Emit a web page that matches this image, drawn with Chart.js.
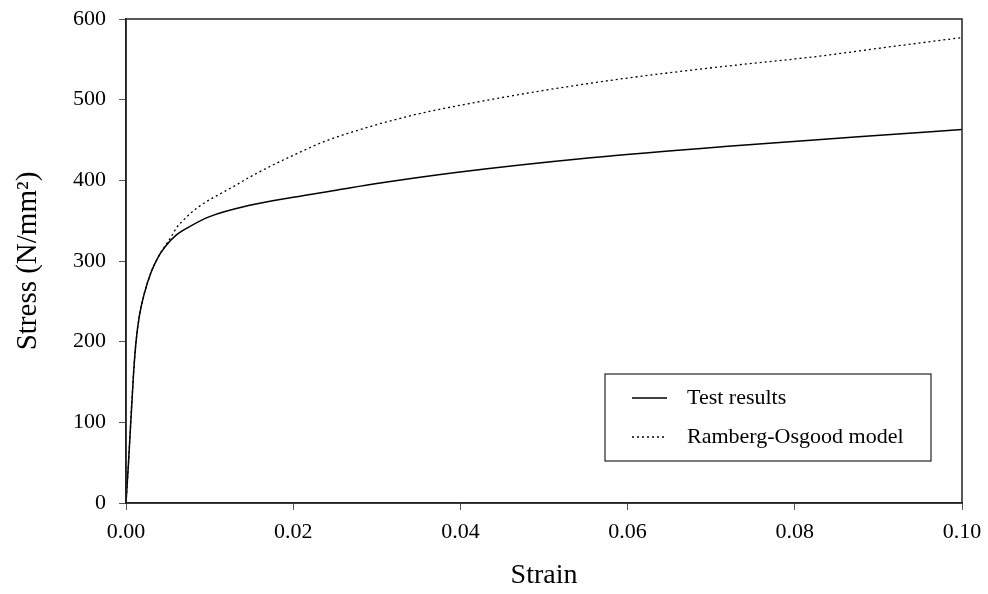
<!DOCTYPE html>
<html>
<head>
<meta charset="utf-8">
<script src="https://cdn.jsdelivr.net/npm/chart.js@4/dist/chart.umd.min.js"></script>
<style>
  html, body { margin: 0; padding: 0; background: #fff; }
  #wrap { width: 988px; height: 594px; }
</style>
</head>
<body>
<div id="wrap"><canvas id="ssChart" width="988" height="594"></canvas></div>
<script>
// Test results
const testStrain = [0, 0.0003, 0.0009, 0.0012, 0.0016, 0.0022, 0.0030, 0.0038, 0.0047, 0.0060, 0.0075, 0.0100, 0.0148, 0.0200, 0.0253, 0.0300, 0.0397, 0.0556, 0.0716, 0.0876, 0.1000];
const testStress = [0, 50, 160, 200, 232, 260, 286, 304, 318, 332, 342, 355, 369, 379, 388, 396, 410, 428, 442, 454, 463];

// Ramberg-Osgood model
const modelStrain = [0, 0.0003, 0.0009, 0.0012, 0.0016, 0.0022, 0.0030, 0.0038, 0.0047, 0.0054, 0.0061, 0.0069, 0.0077, 0.0088, 0.0100, 0.0114, 0.0128, 0.0148, 0.0168, 0.0200, 0.0237, 0.0290, 0.0344, 0.0420, 0.0503, 0.0580, 0.0663, 0.0740, 0.0822, 0.0910, 0.1000];
const modelStress = [0, 50, 160, 200, 232, 260, 286, 304, 319, 330, 342, 351, 359, 368, 376, 384, 392, 404, 415, 431, 448, 466, 481, 497, 512, 524, 535, 544, 553, 565, 577];

const seriesLabels = ['Test results', 'Ramberg-Osgood model'];
const xTicks = [0, 0.02, 0.04, 0.06, 0.08, 0.10];
const yTicks = [0, 100, 200, 300, 400, 500, 600];

const FONT = '"Liberation Serif", "Times New Roman", serif';

function pairs(xs, ys) {
  return xs.map((x, i) => ({ x: x, y: ys[i] }));
}

// box round the plot + legend inside it
const frameAndLegend = {
  id: 'frameAndLegend',
  afterDraw(chart) {
    const c = chart.ctx;
    const a = chart.chartArea;
    c.save();
    c.strokeStyle = '#222';
    c.lineWidth = 1.5;
    c.strokeRect(a.left, a.top, a.right - a.left, a.bottom - a.top);

    // legend box
    const bw = 326, bh = 87;
    const bx = a.right - 31 - bw;
    const by = a.bottom - 42 - bh;
    c.fillStyle = '#fff';
    c.fillRect(bx, by, bw, bh);
    c.strokeStyle = '#222';
    c.lineWidth = 1.2;
    c.strokeRect(bx, by, bw, bh);

    const ds = chart.data.datasets;
    const rows = [by + 24, by + 63];
    ds.forEach((d, i) => {
      c.beginPath();
      c.strokeStyle = '#000';
      c.lineWidth = 1.3;
      c.setLineDash(d.borderDash || []);
      c.moveTo(bx + 27, rows[i]);
      c.lineTo(bx + 62, rows[i]);
      c.stroke();
      c.setLineDash([]);
      c.fillStyle = '#000';
      c.font = '22px ' + FONT;
      c.textBaseline = 'middle';
      c.textAlign = 'left';
      c.fillText(d.label, bx + 82, rows[i]);
    });
    c.restore();
  }
};

const ctx = document.getElementById('ssChart').getContext('2d');
new Chart(ctx, {
  type: 'scatter',
  data: {
    datasets: [
      {
        label: seriesLabels[0],
        data: pairs(testStrain, testStress),
        showLine: true,
        borderColor: '#000',
        borderWidth: 1.5,
        pointRadius: 0,
        cubicInterpolationMode: 'monotone',
        fill: false
      },
      {
        label: seriesLabels[1],
        data: pairs(modelStrain, modelStress),
        showLine: true,
        borderColor: '#000',
        borderWidth: 1.3,
        borderDash: [2, 3],
        pointRadius: 0,
        cubicInterpolationMode: 'monotone',
        fill: false
      }
    ]
  },
  options: {
    responsive: false,
    animation: false,
    layout: { padding: { top: 19, right: 26, left: 0, bottom: 0 } },
    plugins: {
      legend: { display: false },
      tooltip: { enabled: false }
    },
    scales: {
      x: {
        type: 'linear',
        min: 0,
        max: 0.1,
        afterBuildTicks: s => { s.ticks = xTicks.map(v => ({ value: v })); },
        afterFit: s => { s.height = 91; s.paddingLeft = 0; s.paddingRight = 0; },
        grid: { drawOnChartArea: false, drawTicks: true, tickLength: 7, color: '#555' },
        border: { display: true, color: '#222', width: 1.5 },
        ticks: {
          color: '#000',
          padding: 9,
          font: { family: FONT, size: 22 },
          callback: v => v.toFixed(2),
          maxRotation: 0
        },
        title: {
          display: true,
          text: 'Strain',
          color: '#000',
          font: { family: FONT, size: 28 },
          padding: { top: 0, bottom: 2 }
        }
      },
      y: {
        type: 'linear',
        min: 0,
        max: 600,
        afterBuildTicks: s => { s.ticks = yTicks.map(v => ({ value: v })); },
        afterFit: s => { s.width = 126; s.paddingTop = 0; s.paddingBottom = 0; },
        grid: { drawOnChartArea: false, drawTicks: true, tickLength: 7, color: '#555' },
        border: { display: true, color: '#222', width: 1.5 },
        ticks: {
          color: '#000',
          padding: 13,
          font: { family: FONT, size: 22 }
        },
        title: {
          display: true,
          text: 'Stress (N/mm²)',
          color: '#000',
          font: { family: FONT, size: 29 },
          padding: { top: 11, bottom: 0 }
        }
      }
    }
  },
  plugins: [frameAndLegend]
});
</script>
</body>
</html>
